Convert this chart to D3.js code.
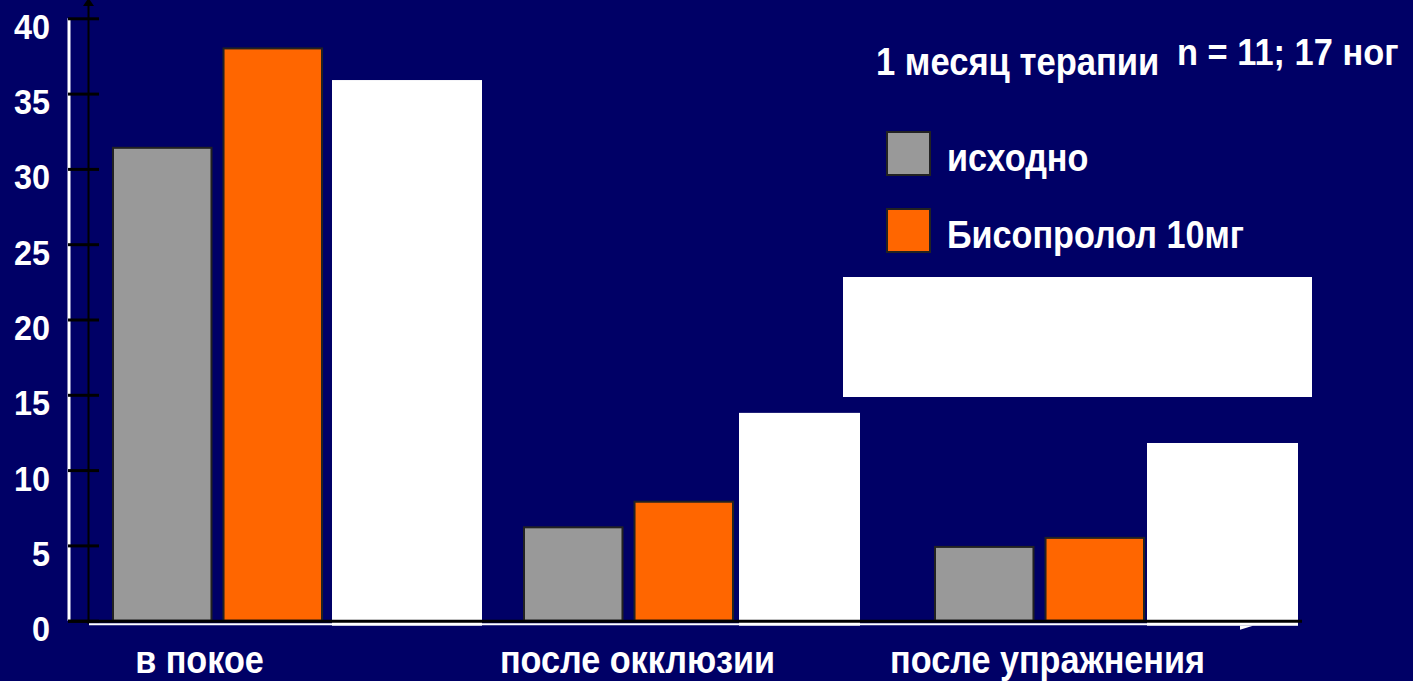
<!DOCTYPE html>
<html>
<head>
<meta charset="utf-8">
<script src="https://cdn.jsdelivr.net/npm/d3@7"></script>
<style>
  html, body { margin: 0; padding: 0; background: #000066; }
  svg { display: block; }
  text { font-family: "Liberation Sans", Arial, sans-serif; font-weight: bold; fill: #ffffff; }
</style>
</head>
<body>
<div id="chart"></div>
<script>
// data
var categories = ["в покое", "после окклюзии", "после упражнения"];
var seriesNames = ["исходно", "Бисопролол 10мг"];
var baseline = [31.4, 6.2, 4.9];
var bisoprolol = [38.0, 7.9, 5.5];
var hiddenSeries = [35.9, 13.8, 11.8];   // white cover boxes over a third series
var yTicks = [0, 5, 10, 15, 20, 25, 30, 35, 40];
var legendTitle = "1 месяц терапии";
var noteText = "n = 11; 17 ног";

var colors = ["#999999", "#ff6600"];
var coverOffsets = [10, 6, 3];
var coverWidths = [150, 121, 151];
var labelShift = [-18, 9, 8];

var svgWidth = 1413, svgHeight = 681;
var squeeze = 0.9;   // text in the slide is a bit narrow

var svg = d3.select("#chart")
  .append("svg")
  .attr("width", svgWidth)
  .attr("height", svgHeight);

svg.append("rect")
  .attr("width", svgWidth)
  .attr("height", svgHeight)
  .attr("fill", "#000066");

function addText(parent, str, x, y, size, sx, anchor) {
  return parent.append("text")
    .attr("transform", `translate(${x},${y}) scale(${sx},1)`)
    .attr("font-size", size + "px")
    .attr("text-anchor", anchor || "start")
    .text(str);
}

// scales
var y = d3.scaleLinear()
  .domain([0, 40])
  .range([620.7, 18.3]);

var x0 = d3.scaleBand()
  .domain(categories)
  .range([113, 1144])
  .paddingInner(1 - 209 / 411)
  .paddingOuter(0);

var x1 = d3.scaleBand()
  .domain(seriesNames)
  .range([0, x0.bandwidth()])
  .paddingInner(0.109);

// white line left of the axis
svg.append("line")
  .attr("x1", 69).attr("x2", 69)
  .attr("y1", y(40)).attr("y2", y(0))
  .attr("stroke", "#ffffff")
  .attr("stroke-width", 3);

// black vertical axis line
svg.append("line")
  .attr("x1", 88.5).attr("x2", 88.5)
  .attr("y1", 2).attr("y2", y(0) + 3)
  .attr("stroke", "#000000")
  .attr("stroke-width", 2);

svg.append("path")
  .attr("d", "M83,6 L88.5,-2 L94,6 Z")
  .attr("fill", "#000000");

// y axis ticks
var leftAxis = d3.axisLeft(y)
  .tickValues(yTicks)
  .tickSize(31)
  .tickFormat(d3.format("d"));

var axisG = svg.append("g")
  .attr("transform", "translate(99,0)")
  .call(leftAxis);

axisG.select(".domain").remove();
axisG.selectAll(".tick line")
  .attr("stroke", "#000000")
  .attr("stroke-width", 3);
axisG.selectAll(".tick text")
  .attr("x", null)
  .attr("dy", null)
  .attr("transform", `translate(-49,20) scale(${squeeze},1)`)
  .attr("fill", "#ffffff")
  .attr("font-size", "36px")
  .attr("font-family", "Liberation Sans, Arial, sans-serif")
  .attr("font-weight", "bold");

// bars
var groups = svg.selectAll(".group")
  .data(categories)
  .enter()
  .append("g")
  .attr("class", "group")
  .attr("transform", d => `translate(${x0(d)},0)`);

groups.selectAll("rect.bar")
  .data((d, i) => [
    { name: seriesNames[0], value: baseline[i], color: colors[0] },
    { name: seriesNames[1], value: bisoprolol[i], color: colors[1] }
  ])
  .enter()
  .append("rect")
  .attr("class", "bar")
  .attr("x", d => x1(d.name))
  .attr("y", d => y(d.value))
  .attr("width", x1.bandwidth())
  .attr("height", d => y(0) - y(d.value))
  .attr("fill", d => d.color)
  .attr("stroke", "#222222")
  .attr("stroke-width", 2);

// baseline: black then white
svg.append("line")
  .attr("x1", 68).attr("x2", 1302)
  .attr("y1", y(0) + 0.5).attr("y2", y(0) + 0.5)
  .attr("stroke", "#000000")
  .attr("stroke-width", 3);

svg.append("line")
  .attr("x1", 89).attr("x2", 1298)
  .attr("y1", y(0) + 3.5).attr("y2", y(0) + 3.5)
  .attr("stroke", "#ffffff")
  .attr("stroke-width", 2);

// white cover boxes
groups.append("rect")
  .attr("class", "cover")
  .attr("x", (d, i) => x0.bandwidth() + coverOffsets[i])
  .attr("y", (d, i) => y(hiddenSeries[i]))
  .attr("width", (d, i) => coverWidths[i])
  .attr("height", (d, i) => y(0) + 5 - y(hiddenSeries[i]))
  .attr("fill", "#ffffff");

// little white notch under the last cover box
var lastX = x0(categories[2]) + x0.bandwidth() + coverOffsets[2];
svg.append("path")
  .attr("d", `M${lastX + 93},${y(0) + 9} L${lastX + 106},${y(0) + 5} L${lastX + 93},${y(0) + 5} Z`)
  .attr("fill", "#ffffff");

// category labels
categories.forEach(function(c, i) {
  addText(svg, c, x0(c) + x0.bandwidth() / 2 + labelShift[i], 673, 38, squeeze, "middle");
});

// legend
addText(svg, legendTitle, 876, 75, 38, 0.91);
addText(svg, noteText, 1177, 65, 37, 0.93);

var legend = svg.selectAll(".legendItem")
  .data(seriesNames)
  .enter()
  .append("g")
  .attr("class", "legendItem")
  .attr("transform", (d, i) => `translate(887,${132 + i * 77})`);

legend.append("rect")
  .attr("width", 43)
  .attr("height", 43)
  .attr("fill", (d, i) => colors[i])
  .attr("stroke", "#222222")
  .attr("stroke-width", 2);

legend.each(function(d) {
  addText(d3.select(this), d, 60, 39, 38, squeeze);
});

// white box in legend area
svg.append("rect")
  .attr("x", 843)
  .attr("y", 277)
  .attr("width", 469)
  .attr("height", 120)
  .attr("fill", "#ffffff");
</script>
</body>
</html>
